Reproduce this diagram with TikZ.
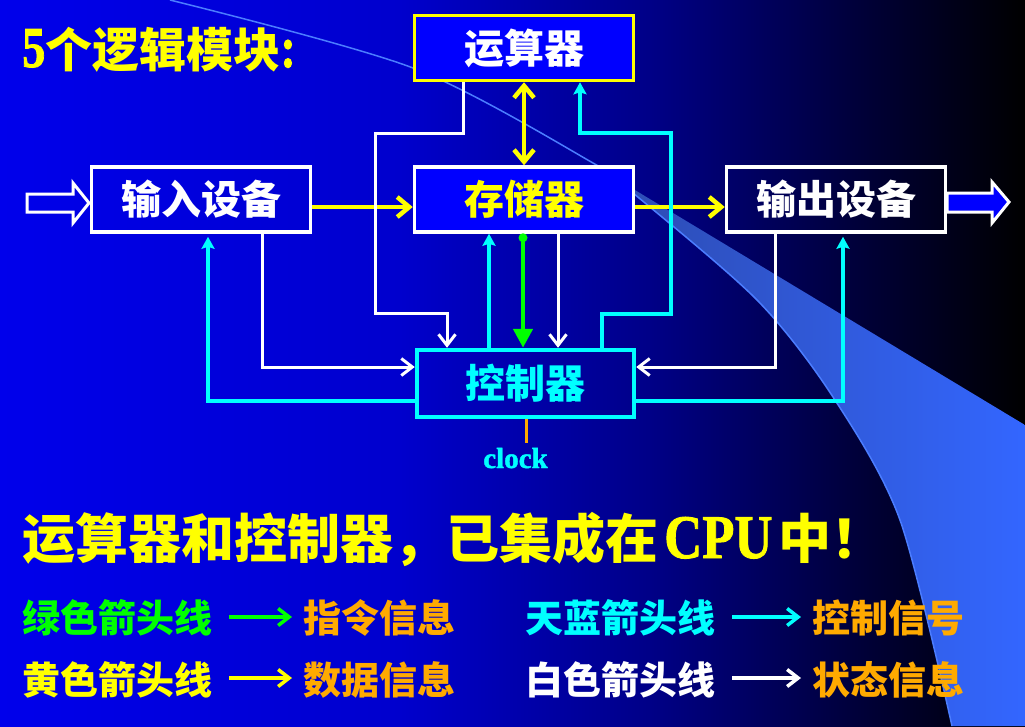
\documentclass[tikz,border=0pt]{standalone}
\usepackage{fontspec}
\usepackage{graphicx}
\setmainfont{Liberation Serif}
\newfontfamily\cjk{Noto Sans CJK SC}
\newfontfamily\tnrb{Liberation Serif Bold}[FakeBold=1.5]
\usetikzlibrary{arrows.meta,calc}
\definecolor{ylw}{RGB}{255,255,0}
\definecolor{cyn}{RGB}{0,255,255}
\definecolor{grn}{RGB}{0,255,0}
\definecolor{org}{RGB}{255,170,0}
\definecolor{boxblue}{RGB}{0,0,255}
\definecolor{bgA}{RGB}{0,0,235}
\definecolor{bgB}{RGB}{0,0,205}
\definecolor{bgC}{RGB}{0,0,135}
\definecolor{bgD}{RGB}{0,0,60}
\definecolor{bgE}{RGB}{0,0,0}
\definecolor{wedgeA}{RGB}{45,75,175}
\definecolor{wedgeB}{RGB}{51,102,255}
\definecolor{swoosh}{RGB}{75,125,255}
\begin{document}
\begin{tikzpicture}[x=1pt,y=-1pt,
  box/.style={draw,rectangle,inner sep=0pt,line width=3.5pt,minimum width=219pt,minimum height=65pt,
    font=\cjk\bfseries\fontsize{40}{40}\selectfont,text=white},
  yarr/.style={draw=ylw,line width=4.5pt,-{Straight Barb[length=12pt,width=20pt]}},
  ydbl/.style={draw=ylw,line width=4.5pt,{Straight Barb[length=12pt,width=20pt]}-{Straight Barb[length=12pt,width=20pt]}},
  warr/.style={draw=white,line width=3pt,-{Straight Barb[length=11pt,width=17pt]}},
  carr/.style={draw=cyn,line width=4pt,-{Stealth[length=12pt,width=13pt,inset=2pt]}},
  garr/.style={draw=grn,line width=4.5pt,-{Triangle[length=19pt,width=19pt]}},
  lt/.style={anchor=base west,inner sep=0pt,font=\cjk\bfseries\fontsize{38}{38}\selectfont},
  la/.style={line width=3.5pt,-{Straight Barb[length=11pt,width=17pt]},shorten <=17pt,shorten >=11pt}
]
\useasboundingbox (0,0) rectangle (1025,726);
% background
\shade[left color=bgA,right color=bgB] (0,0) rectangle (401,726);
\shade[left color=bgB,right color=bgC] (400,0) rectangle (651,726);
\shade[left color=bgC,right color=bgD] (650,0) rectangle (851,726);
\shade[left color=bgD,right color=bgE] (850,0) rectangle (1025,726);
% wedge
\begin{scope}
  \clip plot[smooth] coordinates {(170,0) (413,68) (593,163) (633,193) (757,300) (833,397) (900,520) (952,726)} -- (1025,726) -- (1025,0) -- cycle;
  \clip (600,169) -- (1025,425) -- (1025,726) -- (600,726) -- cycle;
  \shade[left color=wedgeA,right color=wedgeB] (600,160) rectangle (1025,726);
\end{scope}
\draw[swoosh,line width=1.5pt] plot[smooth] coordinates {(170,0) (413,68) (593,163) (633,193) (757,300) (833,397) (900,520) (952,726)};
% boxes
\node[box,draw=ylw,fill=boxblue] (alu) at (524,48) {运算器};
\node[box,draw=white,fill=boxblue,text=ylw] (mem) at (524,199.5) {存储器};
\node[box,draw=white] (inp) at (201,199.5) {输入设备};
\node[box,draw=white] (outp) at (836,199.5) {输出设备};
\node[box,draw=cyn,text=cyn,line width=4.5pt,minimum width=217pt,minimum height=67pt] (ctl) at (525.5,383.5) {控制器};
% big in/out arrows
\draw[white,line width=3pt] (27,194) -- (73,194) -- (73,183) -- (89,203) -- (73,223) -- (73,212) -- (27,212) -- cycle;
\draw[white,fill=boxblue,line width=3pt] (947,193) -- (992,193) -- (992,182) -- (1009,202) -- (992,223) -- (992,212) -- (947,212) -- cycle;
% yellow data arrows
\coordinate (yr) at (0,207);
\draw[yarr] (inp.east |- yr) -- (mem.west |- yr);
\draw[yarr] (mem.east |- yr) -- (outp.west |- yr);
\draw[ydbl] (alu.south) -- (mem.north);
% white status lines
\coordinate (w1a) at (463,133);
\coordinate (w1b) at (375,313);
\coordinate (w1c) at (447,0);
\draw[warr] (alu.south -| w1a) -- (w1a) -| (w1b) -| (ctl.north -| w1c);
\coordinate (w2) at (262,367);
\draw[warr] (inp.south -| w2) |- (ctl.west |- w2);
\coordinate (w3) at (558,0);
\draw[warr] (mem.south -| w3) -- (ctl.north -| w3);
\coordinate (w4) at (775,367);
\draw[warr] (outp.south -| w4) |- (ctl.east |- w4);
% cyan control lines
\coordinate (c1) at (208,401);
\draw[carr,shorten >=3pt] (ctl.west |- c1) -| (inp.south -| c1);
\coordinate (c2) at (489,0);
\draw[carr] (ctl.north -| c2) -- (mem.south -| c2);
\coordinate (c3a) at (602,314);
\coordinate (c3b) at (671,133);
\coordinate (c3c) at (580,0);
\draw[carr] (ctl.north -| c3a) -- (c3a) -| (c3b) -| (alu.south -| c3c);
\coordinate (c4) at (843,401);
\draw[carr,shorten >=3pt] (ctl.east |- c4) -| (outp.south -| c4);
% green instruction line
\coordinate (g) at (523,0);
\draw[garr] (mem.south -| g) -- (ctl.north -| g);
\fill[grn] ($(mem.south -| g)+(0,4)$) circle (4.5pt);
% clock
\node[anchor=base,inner sep=0pt,text=cyn,font=\tnrb\fontsize{29}{29}\selectfont] (clk) at (515.5,468) {clock};
\coordinate (ck) at (526,443);
\draw[org,line width=3pt] (ctl.south -| ck) -- (ck);
% title
\node[anchor=base west,inner sep=0pt,text=ylw,font=\cjk\bfseries\fontsize{47}{47}\selectfont] (title) at (22,67)
  {{\tnrb\fontsize{58}{58}\selectfont\scalebox{0.8}[1]{5}}个逻辑模块{\tnrb\fontsize{58}{58}\selectfont\scalebox{0.8}[1]{:}}};
% big statement
\node[anchor=base west,inner sep=0pt,text=ylw,font=\cjk\bfseries\fontsize{53}{53}\selectfont] (big) at (22,558)
  {运算器和控制器，已集成在\hspace{6pt}{\tnrb\fontsize{62}{62}\selectfont\scalebox{0.85}[1]{CPU}}\hspace{6pt}中！};
% legend
\node[lt,text=grn] (lg1) at (22,632) {绿色箭头线};
\node[lt,text=org] (lg2) at (303,632) {指令信息};
\node[lt,text=ylw] (ly1) at (22,694) {黄色箭头线};
\node[lt,text=org] (ly2) at (303,694) {数据信息};
\node[lt,text=cyn] (lb1) at (525,632) {天蓝箭头线};
\node[lt,text=org] (lb2) at (812,632) {控制信号};
\node[lt,text=white] (lw1) at (525,694) {白色箭头线};
\node[lt,text=org] (lw2) at (812,694) {状态信息};
\coordinate (ar1) at (0,617);
\coordinate (ar2) at (0,678);
\draw[la,grn] (lg1.east |- ar1) -- (lg2.west |- ar1);
\draw[la,ylw] (ly1.east |- ar2) -- (ly2.west |- ar2);
\draw[la,cyn] (lb1.east |- ar1) -- (lb2.west |- ar1);
\draw[la,white] (lw1.east |- ar2) -- (lw2.west |- ar2);
\end{tikzpicture}
\end{document}
